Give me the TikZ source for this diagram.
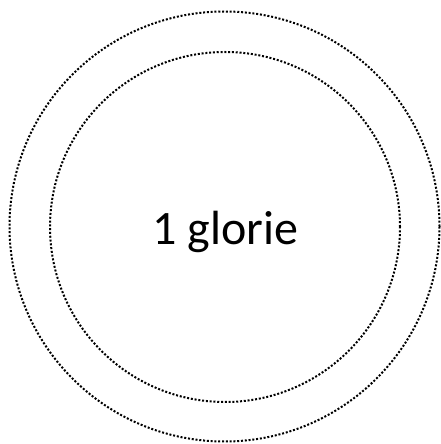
\documentclass[tikz,border=0pt]{standalone}
\usepackage{fontspec}
\setmainfont{Carlito}
\tikzset{
  ring/.style={circle, draw=black, line width=2pt, dash pattern=on 2pt off 1.8pt, inner sep=0pt, minimum size=#1},
}
\begin{document}
\begin{tikzpicture}[x=1pt,y=1pt]
\useasboundingbox (0,0) rectangle (441,444);
\node[ring=430pt] (outer) at (224.5,217.5) {};
\node[ring=350pt] (inner) at (225,217) {};
\node[font=\fontsize{48}{56}\selectfont, anchor=base] (label) at (225.5,199) {1 glorie};
\end{tikzpicture}
\end{document}
